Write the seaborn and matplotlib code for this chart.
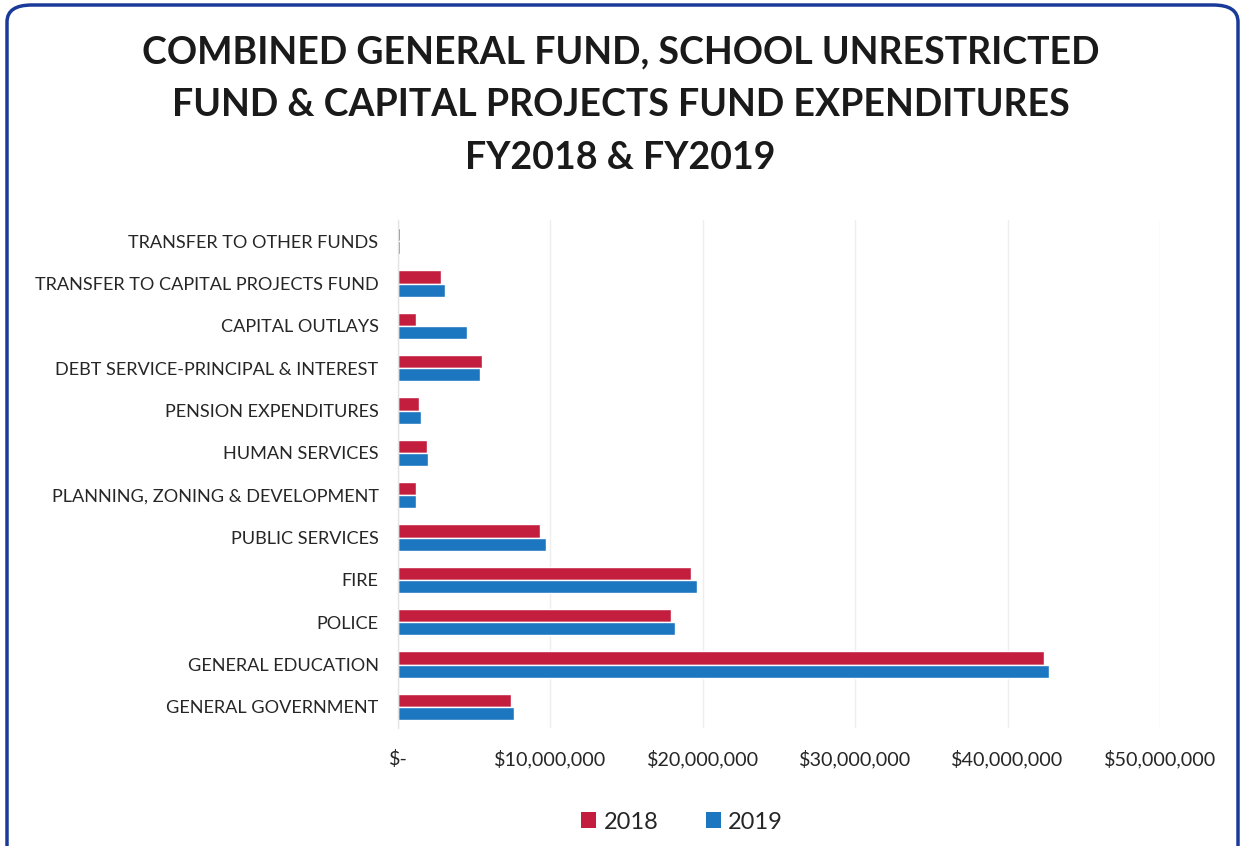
import matplotlib
matplotlib.use("Agg")
import matplotlib.pyplot as plt
from matplotlib.patches import FancyBboxPatch, Patch
from matplotlib.ticker import FuncFormatter
import seaborn as sns
import pandas as pd

# Expenditure categories, top to bottom as listed on the chart
categories = [
    "TRANSFER TO OTHER FUNDS",
    "TRANSFER TO CAPITAL PROJECTS FUND",
    "CAPITAL OUTLAYS",
    "DEBT SERVICE-PRINCIPAL & INTEREST",
    "PENSION EXPENDITURES",
    "HUMAN SERVICES",
    "PLANNING, ZONING & DEVELOPMENT",
    "PUBLIC SERVICES",
    "FIRE",
    "POLICE",
    "GENERAL EDUCATION",
    "GENERAL GOVERNMENT",
]
fy2018 = [100_000, 2_800_000, 1_200_000, 5_500_000, 1_400_000, 1_900_000,
          1_200_000, 9_300_000, 19_200_000, 17_900_000, 42_400_000, 7_400_000]
fy2019 = [100_000, 3_100_000, 4_500_000, 5_400_000, 1_500_000, 2_000_000,
          1_200_000, 9_700_000, 19_600_000, 18_200_000, 42_700_000, 7_600_000]
years = ["2018", "2019"]
colors = ["#C41E3F", "#1C77C0"]
x_ticks = [0, 10_000_000, 20_000_000, 30_000_000, 40_000_000, 50_000_000]

df = pd.DataFrame({
    "category": categories * 2,
    "amount": fy2018 + fy2019,
    "year": [years[0]] * len(categories) + [years[1]] * len(categories),
})

sns.set_theme(style="white")
plt.rcParams["font.family"] = ["Lato", "DejaVu Sans"]

fig = plt.figure(figsize=(12.41, 8.46), dpi=100)
ax = fig.add_axes([398 / 1241, 1 - 728 / 846, (1160 - 398) / 1241, (728 - 220) / 846])

sns.barplot(data=df, y="category", x="amount", hue="year", order=categories,
            hue_order=years, palette=colors, orient="h", width=0.62,
            saturation=1, ax=ax, legend=False)

ax.set_xlim(0, 50_000_000)
ax.set_xticks(x_ticks)
ax.xaxis.set_major_formatter(FuncFormatter(lambda v, p: "$-" if v == 0 else f"${v:,.0f}"))
ax.grid(axis="x", color="#EEEEEE", linewidth=1)
ax.set_axisbelow(True)
for side in ["top", "right", "bottom"]:
    ax.spines[side].set_visible(False)
ax.spines["left"].set_color("#E4E4E4")
ax.spines["left"].set_linewidth(1)
ax.set_xlabel("")
ax.set_ylabel("")
ax.tick_params(axis="y", length=0, pad=14, labelsize=13.1, labelcolor="#262626")
ax.tick_params(axis="x", length=0, pad=16, labelsize=14.2, labelcolor="#262626")

# Title
title_lines = ["COMBINED GENERAL FUND, SCHOOL UNRESTRICTED",
               "FUND & CAPITAL PROJECTS FUND EXPENDITURES",
               "FY2018 & FY2019"]
for i, line in enumerate(title_lines):
    fig.text(0.5, 1 - (52 + i * 53) / 846, line, ha="center", va="center",
             fontsize=27, fontweight="bold", color="#1A1A1A")

# Legend
handles = [Patch(facecolor=c, edgecolor="none") for c in colors]
fig.legend(handles, years, loc="center", bbox_to_anchor=(682 / 1241, 1 - 822 / 846),
           ncol=2, frameon=False, fontsize=17, handlelength=0.65, handleheight=0.65,
           handletextpad=0.3, columnspacing=2.0, labelcolor="#262626")

# Rounded border around the chart area
border = FancyBboxPatch((7 / 1241, -0.02), (1231 / 1241), 1.0 - 5 / 846 + 0.02,
                        boxstyle="round,pad=0,rounding_size=0.02",
                        transform=fig.transFigure, facecolor="none",
                        edgecolor="#1A3A9A", linewidth=2.5, clip_on=False)
fig.patches.append(border)

fig.savefig("out.png", dpi=100, facecolor="white")
